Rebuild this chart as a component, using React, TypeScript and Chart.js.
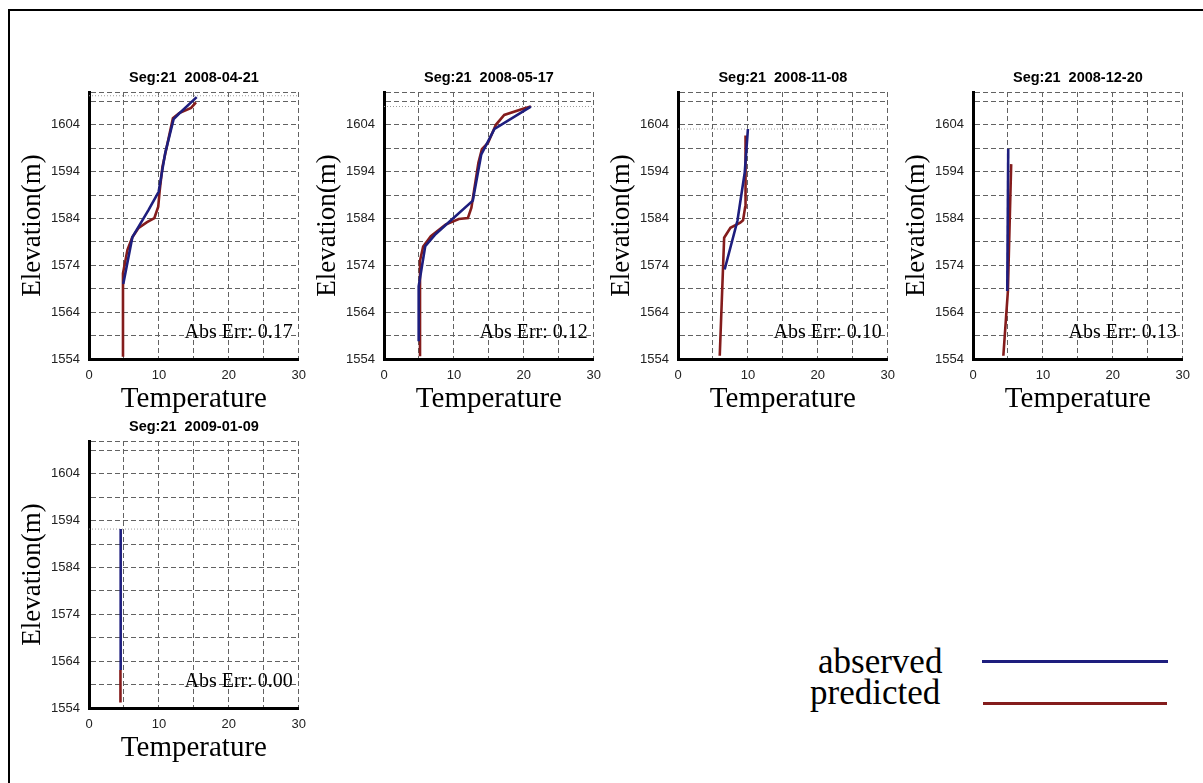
import React, { useEffect, useRef } from "react";
import { Chart, registerables } from "chart.js";

Chart.register(...registerables);

// ---------- data ----------
const X_MIN = 0;
const X_MAX = 30;
const X_GRID_STEP = 5;
const X_TICK_LABELS = [0, 10, 20, 30];

const Y_MIN = 1554;
const Y_MAX = 1611;
const Y_GRID_STEP = 5;
const Y_TICK_LABELS = [1554, 1564, 1574, 1584, 1594, 1604];

const X_TITLE = "Temperature";
const Y_TITLE = "Elevation(m)";

const TITLES = [
  "Seg:21  2008-04-21",
  "Seg:21  2008-05-17",
  "Seg:21  2008-11-08",
  "Seg:21  2008-12-20",
  "Seg:21  2009-01-09",
];
const ABS_ERR = ["0.17", "0.12", "0.10", "0.13", "0.00"];
const SURFACE = [1610.2, 1607.9, 1603.1, null, 1592.2];

// Panel 1 : 2008-04-21
const OBS_T_1 = [4.9, 6.2, 8.5, 9.96, 10.9, 12.1, 12.9, 15.4];
const OBS_Z_1 = [1570.0, 1580.0, 1585.8, 1589.7, 1598.0, 1605.2, 1606.4, 1609.9];
const PRED_T_1 = [4.86, 4.86, 5.5, 6.2, 7.1, 8.3, 9.35, 9.9, 10.1, 10.5, 12.0, 12.9, 14.6, 15.3];
const PRED_Z_1 = [1554.5, 1572.3, 1577.3, 1580.0, 1582.0, 1583.2, 1584.1, 1586.5, 1589.8, 1595.0, 1605.4, 1606.5, 1607.6, 1608.8];

// Panel 2 : 2008-05-17
const OBS_T_2 = [4.96, 4.96, 5.9, 7.4, 12.7, 13.9, 15.8, 21.0];
const OBS_Z_2 = [1557.8, 1569.5, 1578.1, 1580.7, 1587.8, 1597.6, 1603.1, 1607.9];
const PRED_T_2 = [5.15, 5.15, 5.6, 6.7, 8.8, 10.7, 12.0, 12.5, 13.5, 14.0, 14.9, 16.0, 17.2, 20.0, 21.0];
const PRED_Z_2 = [1554.6, 1575.0, 1578.0, 1580.2, 1582.7, 1583.9, 1584.1, 1586.3, 1595.9, 1598.8, 1600.2, 1604.0, 1606.1, 1607.5, 1607.9];

// Panel 3 : 2008-11-08
const OBS_T_3 = [6.67, 8.5, 9.55, 10.0];
const OBS_Z_3 = [1573.1, 1583.5, 1593.9, 1603.1];
const PRED_T_3 = [5.97, 6.6, 7.5, 8.9, 9.3, 9.6, 9.66];
const PRED_Z_3 = [1554.7, 1579.9, 1582.0, 1583.1, 1583.6, 1586.4, 1601.7];

// Panel 4 : 2008-12-20
const OBS_T_4 = [4.9, 5.04];
const OBS_Z_4 = [1568.5, 1598.9];
const PRED_T_4 = [4.34, 4.99, 5.46];
const PRED_Z_4 = [1554.7, 1568.5, 1595.6];

// Panel 5 : 2009-01-09
const OBS_T_5 = [4.53, 4.53];
const OBS_Z_5 = [1562.1, 1592.2];
const PRED_T_5 = [4.5, 4.5];
const PRED_Z_5 = [1555.2, 1562.1];

const OBS_T = [OBS_T_1, OBS_T_2, OBS_T_3, OBS_T_4, OBS_T_5];
const OBS_Z = [OBS_Z_1, OBS_Z_2, OBS_Z_3, OBS_Z_4, OBS_Z_5];
const PRED_T = [PRED_T_1, PRED_T_2, PRED_T_3, PRED_T_4, PRED_T_5];
const PRED_Z = [PRED_Z_1, PRED_Z_2, PRED_Z_3, PRED_Z_4, PRED_Z_5];

const LEGEND_LABELS = ["abserved", "predicted"];

// ---------- styling / layout ----------
const BLUE = "#1e1e7e";
const RED = "#841c1c";
const GRID = "#626262";
const SANS = '"Liberation Sans", Arial, sans-serif';
const SERIF = '"Liberation Serif", "Times New Roman", serif';

// chart-area positions (page px)
const PANEL_POS = [
  { left: 89, top: 92 },
  { left: 384, top: 92 },
  { left: 678, top: 92 },
  { left: 973, top: 92 },
  { left: 89, top: 441 },
];
const AREA_W = 214;
const AREA_H = 267;
const Y_AXIS_W = 80;
const PAD_TOP = 30;
const PAD_RIGHT = 12;
const X_AXIS_H = 63;
const CW = Y_AXIS_W + AREA_W + PAD_RIGHT;
const CH = PAD_TOP + AREA_H + X_AXIS_H;

const panelText = {
  id: "panelText",
  afterDraw(chart: any, _args: any, opts: any) {
    const { ctx, chartArea: a } = chart;
    ctx.save();
    ctx.fillStyle = "#000";
    ctx.font = `bold 14.5px ${SANS}`;
    ctx.textAlign = "center";
    ctx.textBaseline = "middle";
    ctx.fillText(opts.title, (a.left + a.right) / 2, a.top - 14);
    ctx.font = `20px ${SERIF}`;
    ctx.textAlign = "right";
    ctx.textBaseline = "alphabetic";
    ctx.fillText("Abs Err: " + opts.err, a.right - 6, a.bottom - 21);
    ctx.restore();
  },
};

function Panel({ idx }: { idx: number }) {
  const ref = useRef<HTMLCanvasElement>(null);
  useEffect(() => {
    if (!ref.current) return;
    const datasets: any[] = [];
    datasets.push({
      label: "observed",
      data: OBS_T[idx].map((t, i) => ({ x: t, y: OBS_Z[idx][i] })),
      borderColor: BLUE,
      borderWidth: 2.6,
      showLine: true,
      pointRadius: 0,
      tension: 0,
      order: 0,
    });
    datasets.push({
      label: "predicted",
      data: PRED_T[idx].map((t, i) => ({ x: t, y: PRED_Z[idx][i] })),
      borderColor: RED,
      borderWidth: 2.6,
      showLine: true,
      pointRadius: 0,
      tension: 0,
      order: 1,
    });
    const s = SURFACE[idx];
    if (s != null) {
      datasets.push({
        label: "surface",
        data: [
          { x: X_MIN, y: s },
          { x: X_MAX, y: s },
        ],
        borderColor: "#9c9c9c",
        borderWidth: 1,
        borderDash: [1, 2],
        showLine: true,
        pointRadius: 0,
        order: 2,
      });
    }

    const chart = new Chart(ref.current, {
      type: "scatter",
      data: { datasets },
      plugins: [panelText],
      options: {
        animation: false,
        responsive: false,
        devicePixelRatio: 1,
        layout: { padding: { top: PAD_TOP, right: PAD_RIGHT, left: 0, bottom: 0 } },
        plugins: {
          legend: { display: false },
          tooltip: { enabled: false },
          panelText: { title: TITLES[idx], err: ABS_ERR[idx] },
        } as any,
        scales: {
          x: {
            type: "linear",
            min: X_MIN,
            max: X_MAX,
            afterFit: (sc: any) => {
              sc.height = X_AXIS_H;
            },
            ticks: {
              stepSize: X_GRID_STEP,
              autoSkip: false,
              maxRotation: 0,
              padding: 9,
              color: "#222",
              font: { family: SANS, size: 13 },
              callback: (v: any) => (X_TICK_LABELS.includes(Number(v)) ? String(v) : ""),
            },
            grid: { color: GRID, lineWidth: 1, drawTicks: false },
            border: { display: true, color: "#000", width: 3, dash: [5, 3] },
            title: {
              display: true,
              text: X_TITLE,
              color: "#000",
              font: { family: SERIF, size: 29, lineHeight: 1 },
              padding: { top: 0, bottom: 8 },
            },
          },
          y: {
            type: "linear",
            min: Y_MIN,
            max: Y_MAX,
            afterFit: (sc: any) => {
              sc.width = Y_AXIS_W;
            },
            afterBuildTicks: (sc: any) => {
              const t: any[] = [];
              for (let v = Y_MIN; v < Y_MAX; v += Y_GRID_STEP) t.push({ value: v });
              t.push({ value: Y_MAX });
              sc.ticks = t;
            },
            ticks: {
              autoSkip: false,
              padding: 9,
              color: "#222",
              font: { family: SANS, size: 13 },
              callback: (v: any) => (Y_TICK_LABELS.includes(Number(v)) ? String(v) : ""),
            },
            grid: { color: GRID, lineWidth: 1, drawTicks: false },
            border: { display: true, color: "#000", width: 3, dash: [5, 3] },
            title: {
              display: true,
              text: Y_TITLE,
              color: "#000",
              font: { family: SERIF, size: 27, lineHeight: 1 },
              padding: { top: 10, bottom: 0 },
            },
          },
        },
      } as any,
    });
    return () => chart.destroy();
  }, [idx]);

  const pos = PANEL_POS[idx];
  return (
    <canvas
      ref={ref}
      width={CW}
      height={CH}
      style={{
        position: "absolute",
        left: pos.left - Y_AXIS_W,
        top: pos.top - PAD_TOP,
        width: CW,
        height: CH,
      }}
    />
  );
}

export default function App() {
  return (
    <div
      style={{
        position: "fixed",
        left: 0,
        top: 0,
        width: 1203,
        height: 783,
        overflow: "hidden",
        background: "#fff",
      }}
    >
      <div
        style={{
          position: "absolute",
          left: 8,
          top: 9,
          width: 1203,
          height: 783,
          borderTop: "2px solid #000",
          borderLeft: "2px solid #000",
        }}
      />
      {TITLES.map((_, i) => (
        <Panel key={i} idx={i} />
      ))}
      <div
        style={{
          position: "absolute",
          left: 818,
          top: 644,
          font: `35px ${SERIF}`,
          lineHeight: "35px",
          color: "#000",
          whiteSpace: "nowrap",
        }}
      >
        {LEGEND_LABELS[0]}
      </div>
      <div
        style={{
          position: "absolute",
          left: 810,
          top: 675,
          font: `35px ${SERIF}`,
          lineHeight: "35px",
          color: "#000",
          whiteSpace: "nowrap",
        }}
      >
        {LEGEND_LABELS[1]}
      </div>
      <div style={{ position: "absolute", left: 982, top: 660, width: 186, height: 3, background: BLUE }} />
      <div style={{ position: "absolute", left: 983, top: 702, width: 184, height: 3, background: RED }} />
    </div>
  );
}
